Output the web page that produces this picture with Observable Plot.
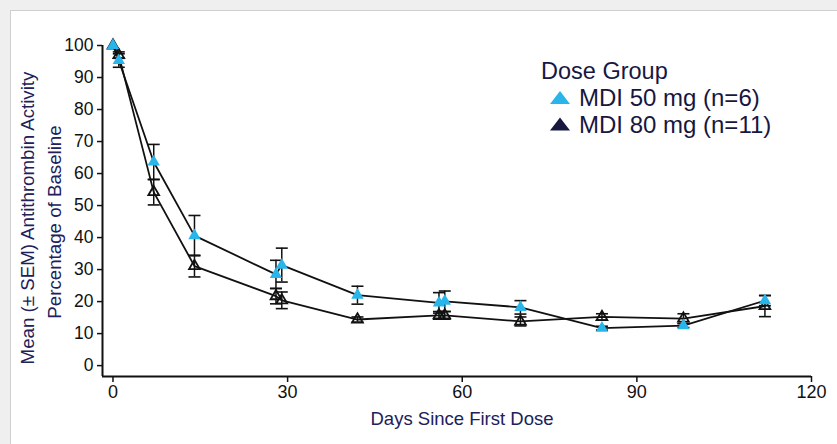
<!DOCTYPE html>
<html><head><meta charset="utf-8">
<script src="https://cdn.jsdelivr.net/npm/d3@7"></script>
<script src="https://cdn.jsdelivr.net/npm/@observablehq/plot@0.6"></script>
<style>
html,body{margin:0;padding:0;background:#efefef;}
#wrap{position:relative;width:837px;height:444px;overflow:hidden;}
#panel{position:absolute;left:10px;top:10px;width:860px;height:460px;background:#fff;border:1px solid #cfcfcf;}
#chart{position:absolute;left:0;top:0;}
</style></head><body>
<div id="wrap"><div id="panel"></div><div id="chart"></div></div>
<script>
// ---- data ----
const days   = [0, 1, 7, 14, 28, 29, 42, 56, 57, 70, 84, 98, 112];
const groups = ["MDI 50 mg (n=6)", "MDI 80 mg (n=11)"];
const mean50 = [100, 95.3, 63.6, 40.6, 28.5, 31.4, 22.0, 19.6, 20.1, 18.2, 11.7, 12.5, 20.3];
const sem50  = [0, 2.1, 5.5, 6.3, 4.4, 5.3, 2.8, 3.2, 3.2, 2.1, 0.6, 0.6, 1.6];
const mean80 = [100, 97.0, 54.2, 31.1, 21.7, 20.4, 14.4, 15.7, 15.7, 13.8, 15.2, 14.7, 18.6];
const sem80  = [0, 1.0, 4.0, 3.4, 2.4, 2.6, 0.8, 1.2, 1.2, 1.4, 1.0, 1.5, 3.3];
const xTicks = [0, 30, 60, 90, 120];
const yTicks = [0, 10, 20, 30, 40, 50, 60, 70, 80, 90, 100];
const xDomain = [-1.8, 120];
const yDomain = [-3.4, 100];
const legendTitle = "Dose Group";
const xTitle = "Days Since First Dose";
const yTitle = ["Mean (± SEM) Antithrombin Activity", "Percentage of Baseline"];
const colors = ["#29b5ea", "#17173f"];

const rows = [];
days.forEach((d, i) => rows.push({group: groups[1], day: d, mean: mean80[i], sem: sem80[i]}));
days.forEach((d, i) => rows.push({group: groups[0], day: d, mean: mean50[i], sem: sem50[i]}));
const errs = rows.filter(r => r.sem > 0);
const g50 = rows.filter(r => r.group === groups[0]);
const g80 = rows.filter(r => r.group === groups[1]);

const cap = {draw(ctx, size) { const h = Math.sqrt(size / Math.PI); ctx.moveTo(-h, 0); ctx.lineTo(h, 0); }};

const plot = Plot.plot({
  width: 837, height: 444,
  marginLeft: 102, marginRight: 26, marginTop: 45, marginBottom: 68,
  style: {background: "transparent", fontFamily: "'Liberation Sans', Arial, sans-serif", color: "#111"},
  x: {domain: xDomain},
  y: {domain: yDomain},
  marks: [
    Plot.ruleX(errs, {x: "day", y1: d => d.mean - d.sem, y2: d => d.mean + d.sem, stroke: "#111", strokeWidth: 1.5}),
    Plot.dot(errs, {x: "day", y: d => d.mean - d.sem, symbol: cap, r: 6, stroke: "#111", strokeWidth: 1.6, fill: "none"}),
    Plot.dot(errs, {x: "day", y: d => d.mean + d.sem, symbol: cap, r: 6, stroke: "#111", strokeWidth: 1.6, fill: "none"}),
    Plot.line(rows, {x: "day", y: "mean", z: "group", stroke: "#111", strokeWidth: 1.8}),
    Plot.dot(g80, {x: "day", y: "mean", symbol: "triangle", r: 4, stroke: "#111", strokeWidth: 1.8, fill: "none"}),
    Plot.dot(g50, {x: "day", y: "mean", symbol: "triangle", r: 4.6, fill: colors[0], stroke: "none"}),
    Plot.ruleX([xDomain[0]], {stroke: "#111", strokeWidth: 2}),
    Plot.ruleY([yDomain[0]], {stroke: "#111", strokeWidth: 2}),
    Plot.axisX({ticks: xTicks, tickSize: 6, tickPadding: 3, fontSize: 18, label: null, strokeWidth: 1.5}),
    Plot.axisY({ticks: yTicks, tickSize: 5, tickPadding: 4, fontSize: 17.5, label: null, strokeWidth: 1.5})
  ]
});
document.getElementById("chart").appendChild(plot);

const svg = d3.select(plot);
const navy = "#20205a";
const t = svg.append("g").attr("fill", navy).attr("font-family", "'Liberation Sans', Arial, sans-serif");
t.append("text").attr("x", 462).attr("y", 425).attr("text-anchor", "middle").attr("font-size", 18.5).text(xTitle);
t.append("text").attr("transform", "translate(34,218) rotate(-90)").attr("text-anchor", "middle").attr("font-size", 18.7).text(yTitle[0]);
t.append("text").attr("transform", "translate(61,222) rotate(-90)").attr("text-anchor", "middle").attr("font-size", 18.7).text(yTitle[1]);

const lg = svg.append("g").attr("font-family", "'Liberation Sans', Arial, sans-serif").attr("fill", "#17173f").attr("text-anchor", "start");
lg.append("text").attr("x", 541).attr("y", 79).attr("font-size", 23.5).attr("text-anchor", "start").text(legendTitle);
[0, 1].forEach(i => {
  const cy = 104 + i * 26.5;
  lg.append("path").attr("d", `M550,${cy}L570,${cy}L560,${cy - 13}Z`).attr("fill", colors[i]);
  lg.append("text").attr("x", 579).attr("y", cy + 2).attr("font-size", 24).attr("text-anchor", "start").text(groups[i]);
});
</script>
</body></html>
